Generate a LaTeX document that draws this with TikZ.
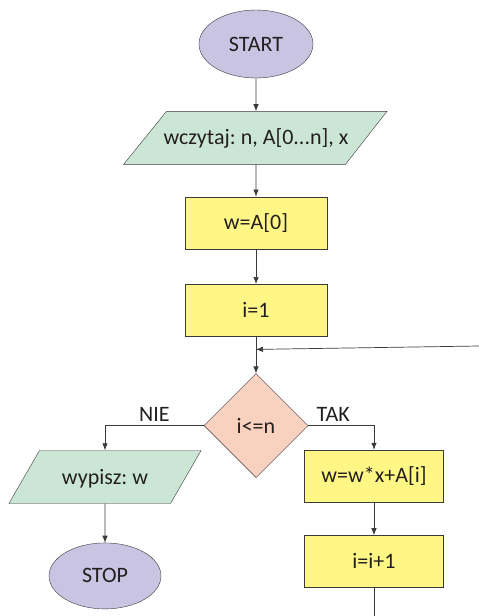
\documentclass[tikz,border=0pt]{standalone}
\usepackage{fontspec}
\setmainfont{Carlito}
\frenchspacing
\usetikzlibrary{positioning, arrows.meta, shapes.geometric}
\definecolor{lila}{HTML}{C8C4E2}
\definecolor{mieta}{HTML}{CCE6D5}
\definecolor{zolty}{HTML}{FFF685}
\definecolor{losos}{HTML}{F9D1BF}
\definecolor{kontur}{HTML}{3A3A3A}
\definecolor{tekst}{HTML}{231F20}
\tikzset{
    every node/.style={font=\fontsize{22}{26}\selectfont, text=tekst}, % one font for all labels
    startstop/.style={ellipse, draw=kontur, fill=lila, inner sep=0pt},
    io/.style={trapezium, draw=kontur, fill=mieta, inner sep=0pt,
        text height=33.5pt, text depth=19.5pt}, % body is the text box, 53pt high
    process/.style={rectangle, draw=kontur, fill=zolty, minimum height=52pt, inner sep=0pt},
    decision/.style={diamond, draw=kontur, fill=losos, minimum width=104pt, minimum height=104pt, inner sep=0pt},
}
\tikzstyle{arrow} = [line width=0.7pt, draw=kontur, -{Latex[length=7pt,width=5.5pt]}]
\tikzstyle{line} = [line width=0.7pt, draw=kontur]

\begin{document}
\begin{tikzpicture}[x=1pt, y=-1pt]
    \useasboundingbox (0,0) rectangle (479,616);
    % main column
    \node[startstop, minimum width=114pt, minimum height=68pt] (start) at (256,44) {START};
    \node[io, trapezium left angle=51, trapezium right angle=128, below=33pt of start] (read)
        {\makebox[179pt]{wczytaj: n, A[0...n], x}};
    \node[process, minimum width=142pt, below=32pt of read] (winit) {w=A[0]};
    \node[process, minimum width=142pt, below=35pt of winit] (iinit) {i=1};
    \coordinate[below=13pt of iinit] (join);
    \node[decision, below=37pt of iinit] (cond) {i<=n};
    % branches
    \node[io, trapezium left angle=60, trapezium right angle=120] (write) at (105,477)
        {\makebox[131pt]{wypisz: w}};
    \node[startstop, minimum width=112pt, minimum height=66pt, below=39pt of write] (stop) {STOP};
    \node[process, minimum width=139pt] (body) at (374,476) {w=w*x+A[i]};
    \node[process, minimum width=139pt, below=33pt of body] (incr) {i=i+1};
    \coordinate (back) at (479,346);
    \coordinate[below=29pt of incr.south] (tail);

    \draw[arrow] (start) -- (read);
    \draw[arrow] (read) -- (winit);
    \draw[arrow] (winit) -- (iinit);
    \draw[arrow] (iinit) -- (cond);
    \draw[arrow] (back) -- (join);
    \draw[arrow] (cond.west) -| node[pos=0.25, above] {NIE} (write);
    \draw[arrow] (cond.east) -| node[pos=0.19, above] {TAK} (body);
    \draw[arrow] (write) -- (stop);
    \draw[arrow] (body) -- (incr);
    \draw[line] (incr) -- (tail);
\end{tikzpicture}
\end{document}
